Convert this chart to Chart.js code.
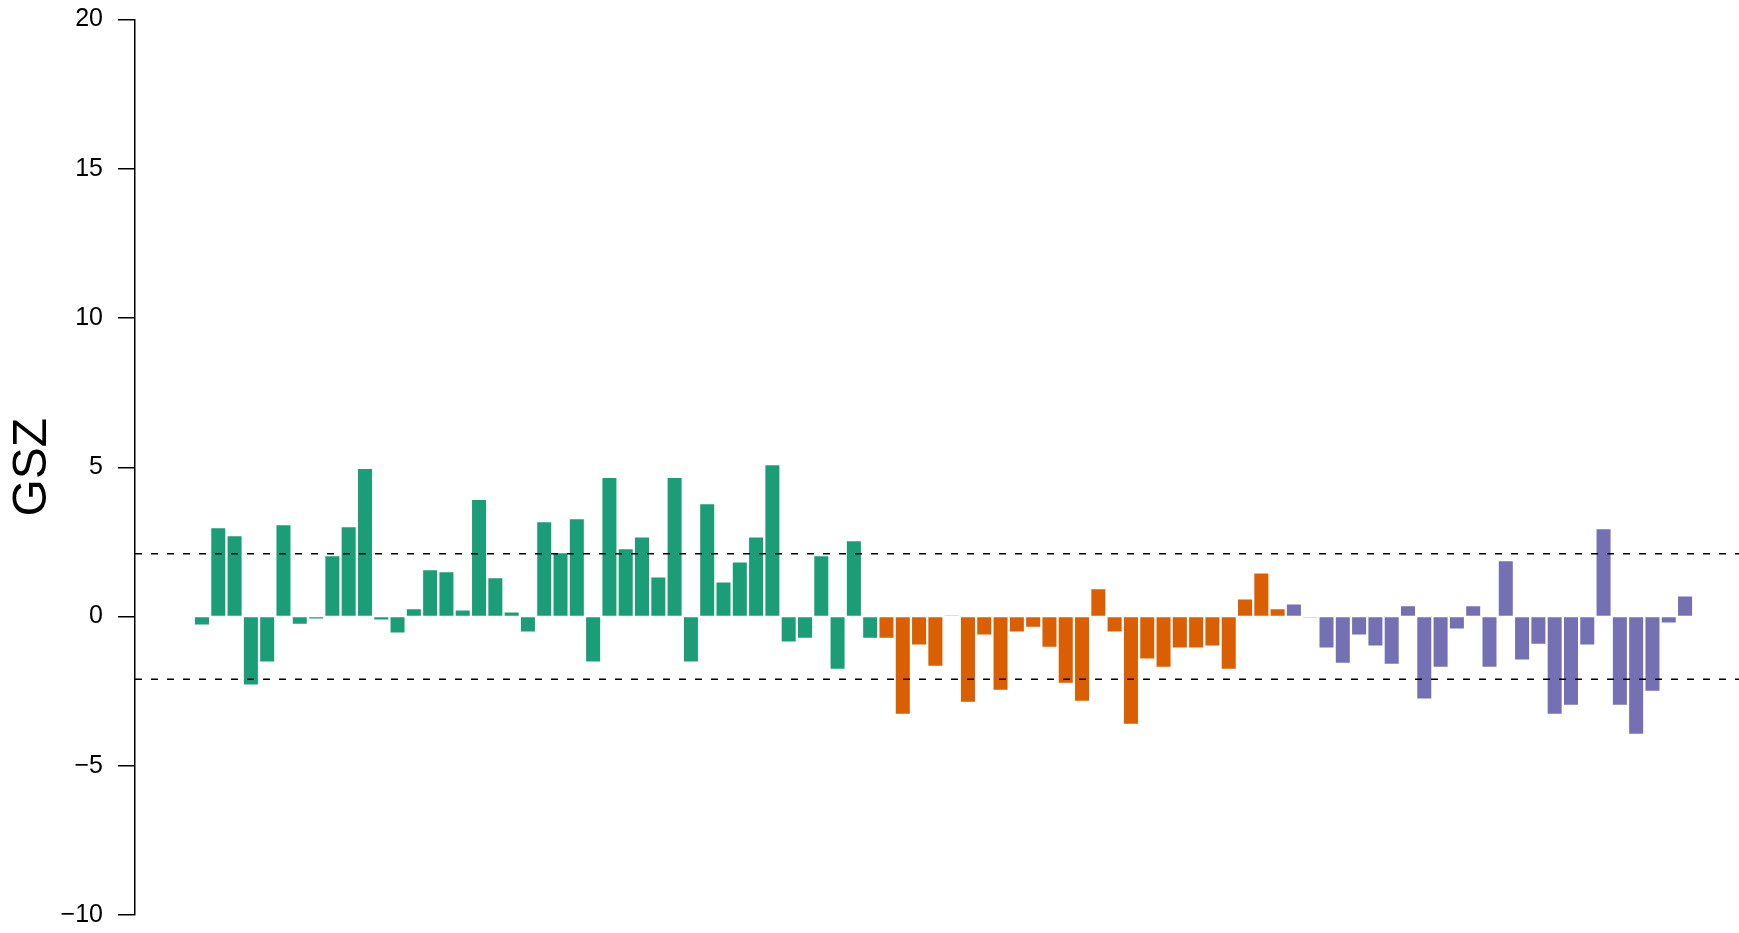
<!DOCTYPE html>
<html>
<head>
<meta charset="utf-8">
<script src="https://cdn.jsdelivr.net/npm/chart.js@4/dist/chart.umd.min.js"></script>
<style>
  html, body { margin: 0; padding: 0; background: #fff; }
  canvas { display: block; }
</style>
</head>
<body>
<canvas id="gszChart" width="1739" height="933"></canvas>
<script>
// GSZ scores per gene set, three groups in a row
const groupA = [-0.27, 2.96, 2.69, -2.28, -1.51, 3.06, -0.24, -0.07, 2.02, 2.99,
  4.94, -0.10, -0.54, 0.24, 1.55, 1.48, 0.20, 3.90, 1.28, 0.13,
  -0.50, 3.16, 2.12, 3.26, -1.51, 4.64, 2.25, 2.65, 1.31, 4.64,
  -1.51, 3.76, 1.14, 1.81, 2.65, 5.07, -0.84, -0.71, 2.02, -1.75,
  2.52, -0.71];
const groupB = [-0.71, -3.26, -0.94, -1.65, 0.03, -2.86, -0.60, -2.45, -0.50, -0.34,
  -1.01, -2.22, -2.82, 0.91, -0.50, -3.59, -1.41, -1.68, -1.04, -1.04,
  -0.97, -1.75, 0.57, 1.44, 0.24];
const groupC = [0.40, -0.03, -1.04, -1.55, -0.60, -0.97, -1.58, 0.34, -2.75, -1.68,
  -0.40, 0.34, -1.68, 1.85, -1.44, -0.91, -3.26, -2.96, -0.94, 2.92,
  -2.96, -3.93, -2.49, -0.20, 0.67];

// dashed significance lines
const thresholds = [2.1, -2.1];

// y axis range and ticks
const yMin = -10, yMax = 20, yStep = 5;

// x range (bar index units) so the first bar sits a bit right of the axis
const xMin = -3.11, xMax = 95.31;

function toPoints(values, start) {
  return values.map((v, i) => ({ x: start + i, y: v }));
}

const barOpts = {
  type: 'bar',
  grouped: false,
  borderWidth: 0,
  barPercentage: 0.86,
  categoryPercentage: 1.0,
  order: 1
};

const datasets = [
  Object.assign({}, barOpts, { data: toPoints(groupA, 1), backgroundColor: '#1b9e77' }),
  Object.assign({}, barOpts, { data: toPoints(groupB, 1 + groupA.length), backgroundColor: '#d95f02' }),
  Object.assign({}, barOpts, { data: toPoints(groupC, 1 + groupA.length + groupB.length), backgroundColor: '#7570b3' })
];

thresholds.forEach(t => {
  datasets.push({
    type: 'line',
    data: [{ x: xMin, y: t }, { x: xMax, y: t }],
    borderColor: '#000',
    borderWidth: 1.5,
    borderDash: [7, 9],
    pointRadius: 0,
    fill: false,
    order: 0
  });
});

const ctx = document.getElementById('gszChart').getContext('2d');
const gszChart = new Chart(ctx, {
  data: { datasets: datasets },
  options: {
    responsive: false,
    animation: false,
    layout: { padding: { top: 19.5, bottom: 18, left: 0, right: 0 } },
    plugins: {
      legend: { display: false },
      tooltip: { enabled: false }
    },
    scales: {
      x: {
        type: 'linear',
        display: false,
        offset: false,
        min: xMin,
        max: xMax
      },
      y: {
        min: yMin,
        max: yMax,
        afterFit: function(scale) {
          // fixed axis width, and keep label padding from shrinking the plot
          scale.width = 135;
          scale.paddingTop = 0;
          scale.paddingBottom = 0;
        },
        ticks: {
          stepSize: yStep,
          color: '#000',
          padding: 15,
          font: { family: 'Liberation Sans', size: 25 },
          callback: value => String(value).replace('-', '\u2212')
        },
        grid: {
          drawOnChartArea: false,
          drawTicks: true,
          tickLength: 17,
          color: '#000',
          lineWidth: 1.5
        },
        border: { display: true, color: '#000', width: 1.5 },
        title: {
          display: true,
          text: 'GSZ',
          color: '#000',
          padding: { top: 4, bottom: 0 },
          font: { family: 'Liberation Sans', size: 48, lineHeight: 1.2 }
        }
      }
    }
  }
});
</script>
</body>
</html>
